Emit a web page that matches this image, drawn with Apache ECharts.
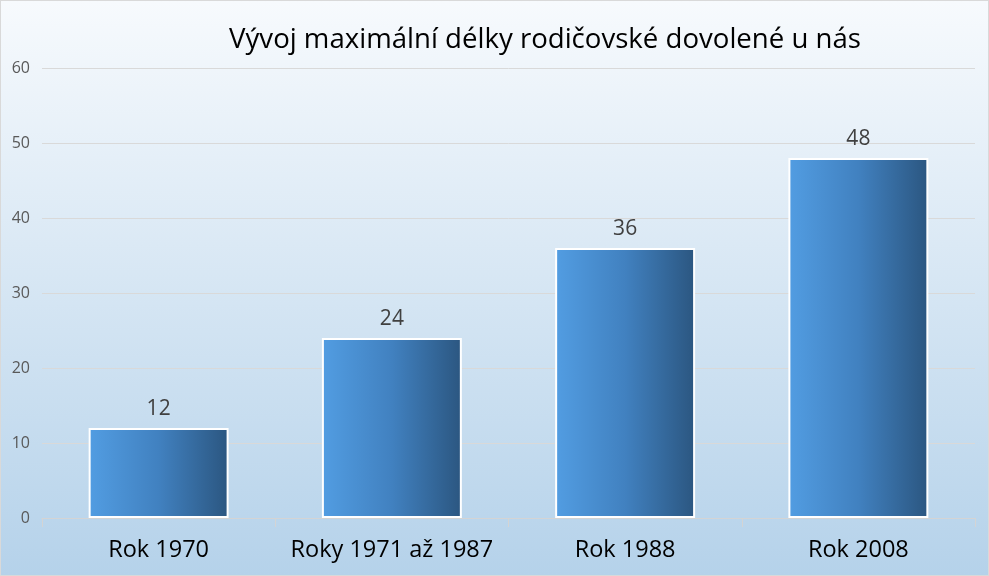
<!DOCTYPE html>
<html>
<head>
<meta charset="utf-8">
<script src="https://cdn.jsdelivr.net/npm/echarts@6/dist/echarts.min.js"></script>
<style>
html, body { margin: 0; padding: 0; }
#chart { width: 987px; height: 574px; border: 1px solid #d9d9d9; }
</style>
</head>
<body>
<div id="chart"></div>
<script>
// data
var chartTitle = 'Vývoj maximální délky rodičovské dovolené u nás';
var categories = ['Rok 1970', 'Roky 1971 až 1987', 'Rok 1988', 'Rok 2008'];
var values = [12, 24, 36, 48];
var yMin = 0, yMax = 60, yStep = 10;

var font = 'Open Sans, Noto Sans, sans-serif';
var chart = echarts.init(document.getElementById('chart'));

chart.setOption({
    animation: false,
    //背景渐变
    backgroundColor: new echarts.graphic.LinearGradient(0, 0, 0, 1, [
        { offset: 0, color: '#f7fafd' },
        { offset: 1, color: '#b5d2ea' }
    ]),
    title: {
        text: chartTitle,
        left: 539,
        top: 20,
        textAlign: 'center',
        textStyle: { fontFamily: font, fontSize: 27.6, fontWeight: 'normal', color: '#000' }
    },
    grid: { left: 41, right: 13, top: 67, bottom: 57 },
    xAxis: {
        type: 'category',
        data: categories,
        axisLine: { lineStyle: { color: '#d4d4d4' } },
        axisTick: { show: true, length: 9, lineStyle: { color: '#d4d4d4' } },
        axisLabel: { interval: 0, fontFamily: font, fontSize: 23.5, color: '#000', margin: 20 }
    },
    yAxis: {
        type: 'value',
        min: yMin,
        max: yMax,
        interval: yStep,
        axisLine: { show: false },
        axisTick: { show: false },
        axisLabel: { fontFamily: font, fontSize: 16, color: '#595959', margin: 12 },
        splitLine: { lineStyle: { color: '#d9d9d9' } }
    },
    series: [{
        type: 'bar',
        data: values,
        barWidth: '60%',
        itemStyle: {
            color: new echarts.graphic.LinearGradient(0, 0, 1, 0, [
                { offset: 0, color: '#529de2' },
                { offset: 0.5, color: '#4181c0' },
                { offset: 1, color: '#2b5680' }
            ]),
            borderColor: '#fff',
            borderWidth: 2
        },
        label: {
            show: true,
            position: 'top',
            distance: 8,
            fontFamily: font,
            fontSize: 21,
            color: '#404040'
        }
    }]
});
</script>
</body>
</html>
